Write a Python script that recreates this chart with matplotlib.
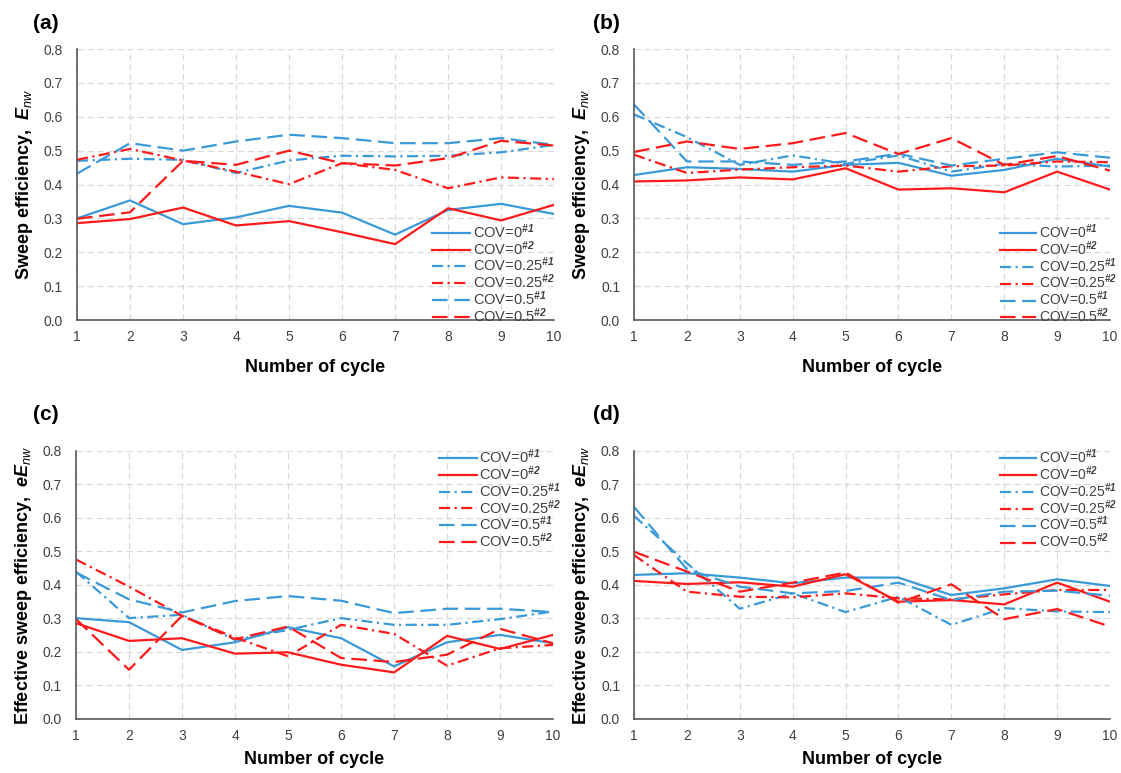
import matplotlib
matplotlib.use("Agg")
import matplotlib.pyplot as plt

plt.rcParams['font.family'] = ['Liberation Sans', 'DejaVu Sans']
plt.rcParams['mathtext.fontset'] = 'custom'
plt.rcParams['mathtext.rm'] = 'Liberation Sans'
plt.rcParams['mathtext.it'] = 'Liberation Sans:italic'
plt.rcParams['mathtext.bf'] = 'Liberation Sans:bold:italic'

cycles = [1, 2, 3, 4, 5, 6, 7, 8, 9, 10]

labels = [r'COV=0$^{\mathbf{\#1}}$', r'COV=0$^{\mathbf{\#2}}$',
          r'COV=0.25$^{\mathbf{\#1}}$', r'COV=0.25$^{\mathbf{\#2}}$',
          r'COV=0.5$^{\mathbf{\#1}}$', r'COV=0.5$^{\mathbf{\#2}}$']

# (a) sweep efficiency
a_cov0_1 = [0.300, 0.353, 0.283, 0.303, 0.337, 0.317, 0.252, 0.325, 0.343, 0.313]
a_cov0_2 = [0.286, 0.298, 0.332, 0.279, 0.292, 0.259, 0.224, 0.330, 0.294, 0.340]
a_cov25_1 = [0.470, 0.476, 0.473, 0.434, 0.471, 0.485, 0.483, 0.485, 0.495, 0.517]
a_cov25_2 = [0.473, 0.505, 0.471, 0.438, 0.401, 0.463, 0.443, 0.389, 0.421, 0.416]
a_cov5_1 = [0.432, 0.522, 0.500, 0.527, 0.547, 0.537, 0.522, 0.522, 0.537, 0.517]
a_cov5_2 = [0.299, 0.318, 0.470, 0.458, 0.500, 0.463, 0.456, 0.478, 0.529, 0.515]

# (b) sweep efficiency
b_cov0_1 = [0.428, 0.451, 0.446, 0.438, 0.458, 0.464, 0.426, 0.443, 0.476, 0.453]
b_cov0_2 = [0.409, 0.412, 0.421, 0.415, 0.448, 0.385, 0.389, 0.377, 0.438, 0.385]
b_cov25_1 = [0.607, 0.540, 0.458, 0.486, 0.461, 0.486, 0.438, 0.461, 0.453, 0.456]
b_cov25_2 = [0.488, 0.434, 0.444, 0.451, 0.456, 0.438, 0.454, 0.456, 0.468, 0.466]
b_cov5_1 = [0.636, 0.468, 0.468, 0.458, 0.468, 0.491, 0.456, 0.476, 0.495, 0.479]
b_cov5_2 = [0.496, 0.527, 0.505, 0.522, 0.552, 0.490, 0.537, 0.458, 0.484, 0.441]

# (c) effective sweep efficiency
c_cov0_1 = [0.301, 0.289, 0.206, 0.229, 0.274, 0.241, 0.157, 0.229, 0.251, 0.226]
c_cov0_2 = [0.286, 0.233, 0.241, 0.195, 0.199, 0.162, 0.139, 0.248, 0.209, 0.251]
c_cov25_1 = [0.440, 0.301, 0.311, 0.236, 0.266, 0.301, 0.281, 0.281, 0.298, 0.321]
c_cov25_2 = [0.476, 0.395, 0.308, 0.243, 0.187, 0.281, 0.254, 0.159, 0.211, 0.221]
c_cov5_1 = [0.437, 0.357, 0.318, 0.352, 0.367, 0.353, 0.316, 0.329, 0.329, 0.319]
c_cov5_2 = [0.298, 0.147, 0.308, 0.238, 0.276, 0.182, 0.170, 0.192, 0.269, 0.226]

# (d) effective sweep efficiency
d_cov0_1 = [0.430, 0.435, 0.422, 0.405, 0.422, 0.422, 0.370, 0.390, 0.417, 0.397]
d_cov0_2 = [0.412, 0.403, 0.408, 0.395, 0.432, 0.350, 0.355, 0.342, 0.407, 0.350]
d_cov25_1 = [0.606, 0.465, 0.329, 0.375, 0.319, 0.365, 0.281, 0.331, 0.321, 0.319]
d_cov25_2 = [0.489, 0.380, 0.365, 0.363, 0.375, 0.360, 0.357, 0.372, 0.385, 0.385]
d_cov5_1 = [0.633, 0.447, 0.395, 0.375, 0.382, 0.407, 0.355, 0.380, 0.383, 0.368]
d_cov5_2 = [0.499, 0.440, 0.380, 0.407, 0.437, 0.347, 0.402, 0.298, 0.328, 0.276]

blue = '#3a9ad9'
red = '#ff1a1a'
solid = (None, None)
dashdot = (5, 2, 1, 2)
longdash = (7, 3)

estilos = [(blue, solid), (red, solid), (blue, dashdot), (red, dashdot),
           (blue, longdash), (red, longdash)]

fig = plt.figure(figsize=(11.21, 7.73), dpi=100)

# letra, ejes, letra (x, y), series, etiqueta y, leyenda (loc, ancla, tamano), pad eje x
paneles = [
    ('(a)', [0.0687, 0.586, 0.4256, 0.3506], (0.0294, 0.969),
     [a_cov0_1, a_cov0_2, a_cov25_1, a_cov25_2, a_cov5_1, a_cov5_2],
     r'Sweep efficiency,  $\mathbf{E}_{nw}$', 'lower right', (1.015, -0.04), 10.5, 11),
    ('(b)', [0.5656, 0.586, 0.4246, 0.3506], (0.529, 0.969),
     [b_cov0_1, b_cov0_2, b_cov25_1, b_cov25_2, b_cov5_1, b_cov5_2],
     r'Sweep efficiency,  $\mathbf{E}_{nw}$', 'lower right', (1.027, -0.04), 10, 11),
    ('(c)', [0.0678, 0.0699, 0.4256, 0.3467], (0.0294, 0.4644),
     [c_cov0_1, c_cov0_2, c_cov25_1, c_cov25_2, c_cov5_1, c_cov5_2],
     r'Effective sweep efficiency,  $\mathbf{eE}_{nw}$', 'upper right', (1.03, 1.035), 10.5, 6),
    ('(d)', [0.5656, 0.0699, 0.4246, 0.3467], (0.529, 0.4644),
     [d_cov0_1, d_cov0_2, d_cov25_1, d_cov25_2, d_cov5_1, d_cov5_2],
     r'Effective sweep efficiency,  $\mathbf{eE}_{nw}$', 'upper right', (1.027, 1.035), 10, 6),
]

for letra, pos, pos_letra, series, ylab, loc, ancla, fs, xpad in paneles:
    ax = fig.add_axes(pos)
    for serie, (color, dash), lab in zip(series, estilos, labels):
        linea, = ax.plot(cycles, serie, color=color, lw=1.6, label=lab)
        if dash[0] is not None:
            linea.set_dashes(dash)
    ax.set_xlim(1, 10)
    ax.set_ylim(0, 0.8)
    ax.set_xticks(cycles)
    ax.set_yticks([0.0, 0.1, 0.2, 0.3, 0.4, 0.5, 0.6, 0.7, 0.8])
    ax.set_yticklabels(['0.0', '0.1', '0.2', '0.3', '0.4', '0.5', '0.6', '0.7', '0.8'])
    ax.grid(True, color='#d9d9d9', linestyle=(0, (5, 3)), linewidth=0.9)
    ax.set_axisbelow(True)
    for lado in ['top', 'right']:
        ax.spines[lado].set_visible(False)
    for lado in ['left', 'bottom']:
        ax.spines[lado].set_color('#595959')
        ax.spines[lado].set_linewidth(1.2)
    ax.tick_params(length=0, labelsize=10, colors='#404040')
    ax.tick_params(axis='y', pad=10)
    ax.tick_params(axis='x', pad=7)
    ax.set_xlabel('Number of cycle', fontsize=13, fontweight='bold', labelpad=xpad)
    ax.set_ylabel(ylab, fontsize=13, fontweight='bold', labelpad=6)
    leg = ax.legend(loc=loc, bbox_to_anchor=ancla, frameon=False, fontsize=fs,
                    handlelength=2.6, labelspacing=-0.12, borderaxespad=0,
                    handletextpad=0.2)
    for t in leg.get_texts():
        t.set_color('#404040')
    # etiqueta del panel
    fig.text(pos_letra[0], pos_letra[1], letra, fontsize=15,
             fontweight='bold', va='center', ha='left')

fig.savefig('out.png', dpi=100)
